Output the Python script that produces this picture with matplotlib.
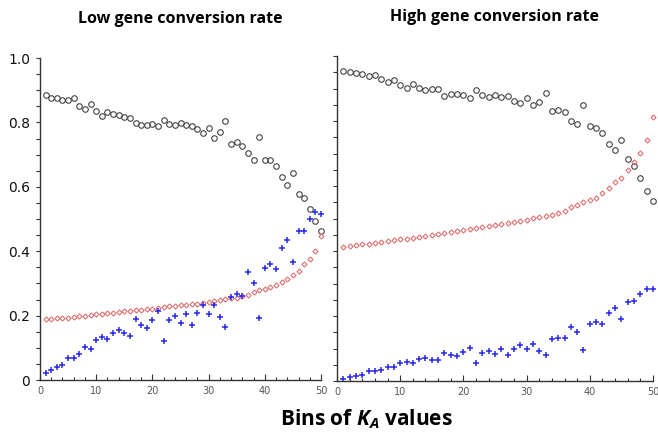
import numpy as np
import matplotlib
matplotlib.use('Agg')
import matplotlib.pyplot as plt
from matplotlib.ticker import MultipleLocator, FixedLocator

plt.rcParams['mathtext.fontset'] = 'custom'
plt.rcParams['mathtext.it'] = 'Open Sans:bold:italic'
plt.rcParams['mathtext.rm'] = 'Open Sans:bold'

bins = np.arange(1, 51)

# low gene conversion rate
low_black = [0.885, 0.876, 0.877, 0.871, 0.869, 0.875, 0.852, 0.841, 0.858, 0.834,
             0.821, 0.832, 0.826, 0.822, 0.817, 0.814, 0.799, 0.793, 0.791, 0.796,
             0.788, 0.807, 0.796, 0.791, 0.797, 0.793, 0.789, 0.778, 0.766, 0.784,
             0.753, 0.771, 0.804, 0.733, 0.738, 0.726, 0.704, 0.684, 0.756, 0.684,
             0.683, 0.664, 0.630, 0.607, 0.642, 0.577, 0.564, 0.532, 0.494, 0.462]
low_red = [0.189, 0.189, 0.191, 0.192, 0.194, 0.196, 0.198, 0.200, 0.202, 0.204,
           0.206, 0.208, 0.209, 0.211, 0.213, 0.214, 0.216, 0.218, 0.220, 0.222,
           0.224, 0.226, 0.229, 0.230, 0.232, 0.234, 0.235, 0.237, 0.239, 0.242,
           0.245, 0.248, 0.251, 0.254, 0.256, 0.260, 0.264, 0.273, 0.279, 0.283,
           0.290, 0.296, 0.305, 0.313, 0.326, 0.338, 0.359, 0.377, 0.402, 0.448]
low_blue = [0.021, 0.031, 0.039, 0.046, 0.067, 0.069, 0.081, 0.101, 0.095, 0.123,
            0.132, 0.126, 0.145, 0.154, 0.145, 0.137, 0.190, 0.171, 0.161, 0.187,
            0.213, 0.120, 0.187, 0.199, 0.176, 0.206, 0.171, 0.209, 0.232, 0.206,
            0.234, 0.195, 0.164, 0.259, 0.267, 0.261, 0.334, 0.302, 0.194, 0.347,
            0.361, 0.345, 0.411, 0.434, 0.367, 0.462, 0.464, 0.500, 0.522, 0.514]

# high gene conversion rate
high_black = [0.955, 0.950, 0.948, 0.944, 0.938, 0.942, 0.929, 0.919, 0.925, 0.911,
              0.903, 0.913, 0.903, 0.895, 0.897, 0.898, 0.878, 0.884, 0.884, 0.881,
              0.872, 0.895, 0.880, 0.873, 0.881, 0.875, 0.876, 0.862, 0.856, 0.870,
              0.849, 0.858, 0.885, 0.831, 0.834, 0.827, 0.801, 0.790, 0.848, 0.784,
              0.779, 0.764, 0.730, 0.710, 0.742, 0.683, 0.662, 0.626, 0.586, 0.553]
high_red = [0.413, 0.415, 0.418, 0.421, 0.423, 0.425, 0.428, 0.431, 0.433, 0.436,
            0.438, 0.441, 0.444, 0.447, 0.450, 0.453, 0.455, 0.458, 0.462, 0.465,
            0.467, 0.471, 0.474, 0.477, 0.480, 0.483, 0.485, 0.488, 0.491, 0.495,
            0.501, 0.506, 0.509, 0.511, 0.516, 0.524, 0.534, 0.543, 0.551, 0.557,
            0.564, 0.577, 0.595, 0.612, 0.626, 0.648, 0.673, 0.703, 0.742, 0.811]
high_blue = [0.007, 0.013, 0.016, 0.019, 0.030, 0.030, 0.035, 0.044, 0.043, 0.054,
             0.059, 0.056, 0.067, 0.072, 0.066, 0.064, 0.087, 0.080, 0.077, 0.088,
             0.101, 0.055, 0.087, 0.093, 0.082, 0.099, 0.079, 0.099, 0.111, 0.098,
             0.114, 0.093, 0.079, 0.128, 0.131, 0.131, 0.166, 0.150, 0.096, 0.174,
             0.181, 0.174, 0.210, 0.225, 0.191, 0.242, 0.247, 0.269, 0.283, 0.282]

titles = ['Low gene conversion rate', 'High gene conversion rate']
xticks = [0, 10, 20, 30, 40, 50]
yticks = [0, 0.2, 0.4, 0.6, 0.8, 1.0]
ylabels = ['0', '0.2', '0.4', '0.6', '0.8', '1.0']

fig = plt.figure(figsize=(6.58, 4.32), dpi=100)
axL = fig.add_axes([40/658, 1-380/432, 281/658, 322/432])
axR = fig.add_axes([337/658, 1-381/432, 316/658, 325/432])

for ax, blk, red, blu, ttl in [(axL, low_black, low_red, low_blue, titles[0]),
                                (axR, high_black, high_red, high_blue, titles[1])]:
    ax.plot(bins, blk, ls='none', marker='o', ms=4.0, mfc='none', mec='#444444', mew=0.8, clip_on=False)
    ax.plot(bins, red, ls='none', marker='D', ms=2.6, mfc='none', mec='#e07070', mew=0.8, clip_on=False)
    ax.plot(bins, blu, ls='none', marker='+', ms=5.0, mec='#2a2aee', mew=1.1, clip_on=False)
    ax.set_xlim(0, 50); ax.set_ylim(0, 1)
    for s in ['top', 'right']: ax.spines[s].set_visible(False)
    for s in ['left', 'bottom']: ax.spines[s].set_color('#333333'); ax.spines[s].set_linewidth(1.0)
    ax.xaxis.set_major_locator(FixedLocator(xticks))
    ax.xaxis.set_minor_locator(MultipleLocator(2))
    ax.yaxis.set_major_locator(FixedLocator(yticks))
    ax.yaxis.set_minor_locator(MultipleLocator(0.05))
    ax.tick_params(axis='x', which='major', direction='in', length=4, width=0.8, color='#333333',
                   labelsize=7, labelcolor='#555555', pad=4)
    ax.tick_params(axis='x', which='minor', direction='in', length=2.5, width=0.8, color='#333333')
    ax.tick_params(axis='y', which='both', direction='out', length=3, width=0.8, color='#333333')
    ax.set_title(ttl, fontsize=11.5, fontweight='bold', family=['Open Sans', 'DejaVu Sans'], pad=25)

axL.set_yticklabels(ylabels)
axL.tick_params(axis='y', labelsize=10, labelcolor='#111111', pad=4)
axR.set_yticklabels([])

fig.text(366/658, 1-419/432, 'Bins of $K_A$ values', ha='center', va='center',
         fontsize=15, fontweight='bold', family=['Open Sans', 'DejaVu Sans'])

fig.savefig('out.png', dpi=100)
